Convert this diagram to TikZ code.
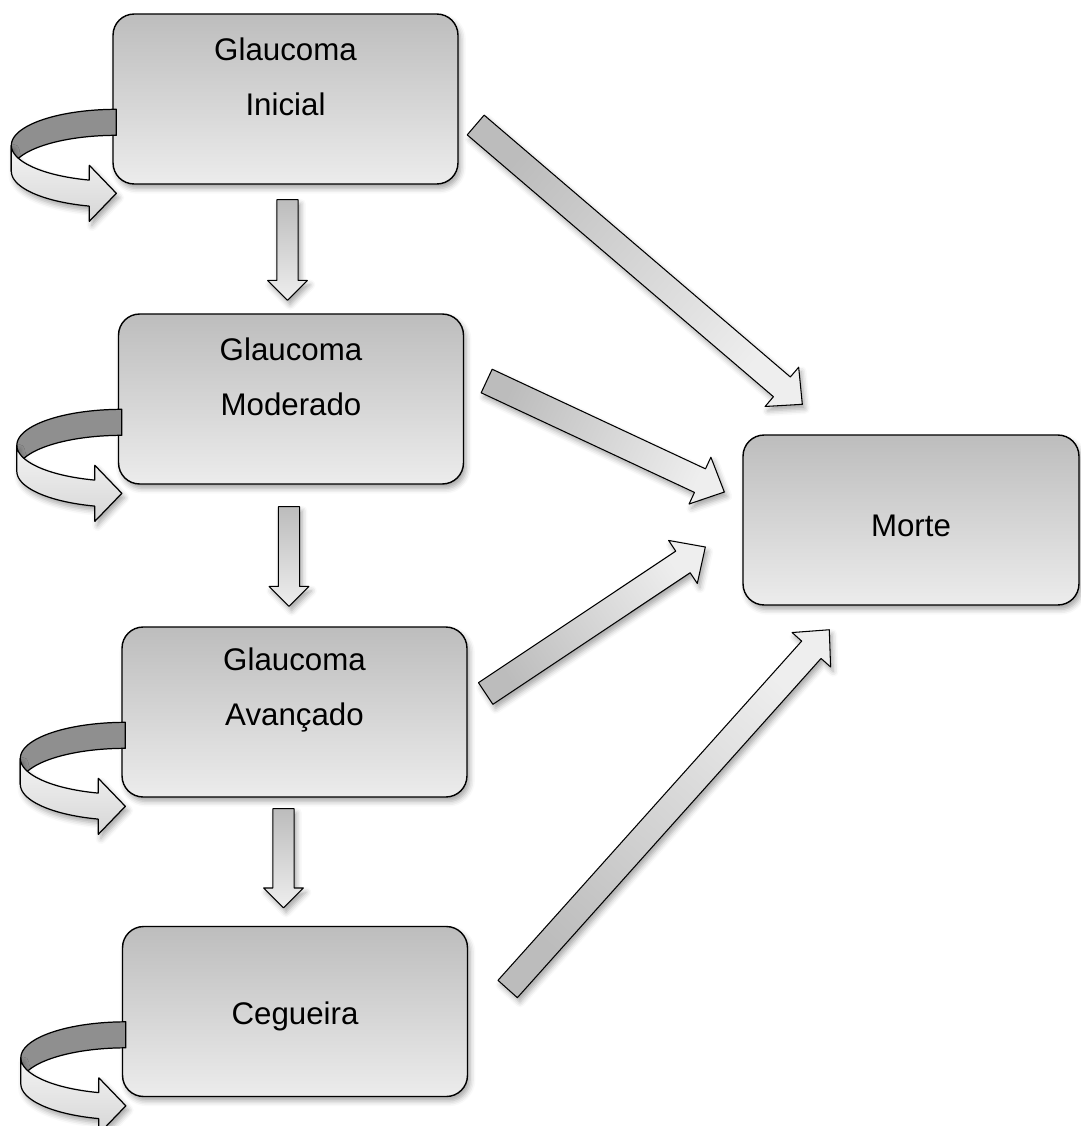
\documentclass[tikz,border=0pt]{standalone}
\usepackage{fontspec}
\setmainfont{Liberation Sans}
\usetikzlibrary{calc,shadows.blur}
\definecolor{boxtop}{HTML}{BDBDBD}
\definecolor{boxbot}{HTML}{ECECEC}
\definecolor{arrowdark}{HTML}{BCBCBC}
\definecolor{arrowlight}{HTML}{EEEEEE}
\definecolor{loopdark}{HTML}{8F8F8F}
\definecolor{looplight}{HTML}{F4F4F4}
\definecolor{loopmid}{HTML}{D6D6D6}
\newdimen\fadx \newdimen\fady
% seta larga: cauda, ponta, meia largura, meia largura da ponta, comprimento da ponta (pt)
\newcommand\fatarrow[5]{%
  \path (#1) coordinate (fa-tail) (#2) coordinate (fa-tip);
  \pgfextractx{\fadx}{\pgfpointdiff{\pgfpointanchor{fa-tail}{center}}{\pgfpointanchor{fa-tip}{center}}}%
  \pgfextracty{\fady}{\pgfpointdiff{\pgfpointanchor{fa-tail}{center}}{\pgfpointanchor{fa-tip}{center}}}%
  \pgfmathsetmacro\faang{atan2(\fady,\fadx)}%
  \pgfmathsetmacro\falen{veclen(\fadx,\fady)}%
  \pgfmathsetmacro\fashade{\faang+90}%
  \begin{scope}[shift={(fa-tail)},rotate=\faang]
    \path[fatarrow,shading angle=\fashade] (0pt,-#3pt) -- ({\falen pt-#5pt},-#3pt) -- ({\falen pt-#5pt},-#4pt)
      -- (\falen pt,0pt) -- ({\falen pt-#5pt},#4pt) -- ({\falen pt-#5pt},#3pt) -- (0pt,#3pt) -- cycle;
  \end{scope}}
% seta curva a esquerda de cada caixa
\newcommand\selfloop[1]{%
  \begin{scope}[shift={($(#1.north west)+(4,96)$)}]
    \path[loopback] plot[domain=-90:-180,samples=30] ({105*cos(\x)},{36+36*sin(\x)})
      -- plot[domain=-180:-90,samples=30] ({105*cos(\x)},{62+36*sin(\x)}) -- cycle;
    \path[loopfront] plot[domain=180:105,samples=30] ({105*cos(\x)},{36+36*sin(\x)})
      -- (-27,56) -- (0,84) -- (-27,112)
      -- plot[domain=105:180,samples=30] ({105*cos(\x)},{62+36*sin(\x)}) -- cycle;
  \end{scope}}

\begin{document}
\begin{tikzpicture}[x=0.02cm,y=-0.02cm,line join=round,font=\fontsize{17.8}{31.5}\selectfont]
\tikzset{softshadow/.style={blur shadow={shadow xshift=1.5pt,shadow yshift=-2.5pt,shadow blur radius=3pt,shadow opacity=35}},
  stage/.style={rectangle,rounded corners=12pt,draw=black,line width=0.8pt,top color=boxtop,bottom color=boxbot,
    minimum width=6.9cm,minimum height=3.4cm,softshadow},
  stagetext/.style={align=center,inner sep=0pt},
  fatarrow/.style={draw=black,line width=0.6pt,top color=arrowdark,bottom color=arrowlight,softshadow},
  loopback/.style={draw=black,line width=0.7pt,fill=loopdark},
  loopfront/.style={draw=black,line width=0.7pt,top color=looplight,bottom color=loopmid,softshadow}}
\useasboundingbox (0,0) rectangle (1080,1126);

\node[stage] (inicial) at (285.5,99) {};
\node[stage] (moderado) at (291,399) {};
\node[stage] (avancado) at (294.5,712) {};
\node[stage] (cegueira) at (295,1011.5) {};
\node[stage,minimum width=6.72cm] (morte) at (911,520) {};

\node[stagetext] (t-inicial) at ($(inicial)+(0,-22)$) {Glaucoma\\Inicial};
\node[stagetext] (t-moderado) at ($(moderado)+(0,-22)$) {Glaucoma\\Moderado};
\node[stagetext] (t-avancado) at ($(avancado)+(0,-22)$) {Glaucoma\\Avançado};
\node[stagetext] (t-cegueira) at ($(cegueira)+(0,5)$) {Cegueira};
\node[stagetext] (t-morte) at ($(morte)+(0,6)$) {Morte};

% progressao
\fatarrow{$(inicial.south)+(2,15)$}{$(moderado.north)+(-3.5,-13)$}{6}{11.3}{11.3}
\fatarrow{$(moderado.south)+(-2,22)$}{$(avancado.north)+(-5.5,-20)$}{6}{11.3}{11.3}
\fatarrow{$(avancado.south)+(-11,11)$}{$(cegueira.north)+(-11.5,-18)$}{6}{11.3}{11.3}

% morte
\fatarrow{$(inicial.east)+(17,26)$}{$(morte.north west)+(60,-30)$}{7.4}{14.7}{15.3}
\fatarrow{$(moderado.east)+(22.5,-18)$}{$(morte.west)+(-18,-28)$}{7.4}{14.7}{15.3}
\fatarrow{$(avancado.east)+(18,-18.5)$}{$(morte.west)+(-37,27)$}{7.4}{14.7}{15.3}
\fatarrow{$(cegueira.east)+(39.5,-22.5)$}{$(morte.south west)+(87,24)$}{7.4}{14.7}{15.3}

\foreach \b in {inicial,moderado,avancado,cegueira} \selfloop{\b};
\end{tikzpicture}
\end{document}
